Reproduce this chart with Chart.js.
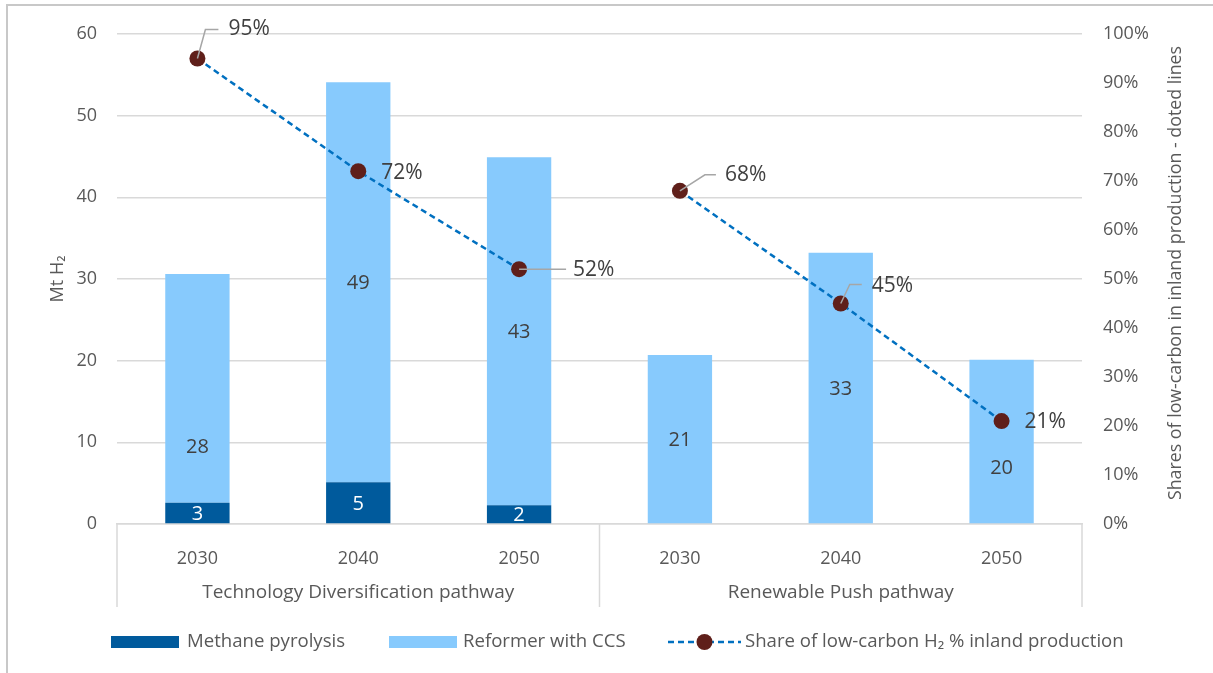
<!DOCTYPE html>
<html>
<head>
<meta charset="utf-8">
<script src="https://cdn.jsdelivr.net/npm/chart.js@4.4.1/dist/chart.umd.min.js"></script>
<style>
  html, body { margin: 0; padding: 0; background: #fff; }
  #wrap { width: 1213px; height: 673px; position: relative; }
</style>
</head>
<body>
<div id="wrap"><canvas id="h2Chart"></canvas></div>
<script>
/* data */
const years = ["2030", "2040", "2050", "2030", "2040", "2050"];
const pathways = ["Technology Diversification pathway", "Renewable Push pathway"];
const methanePyrolysis = [2.6, 5.1, 2.3, 0, 0, 0];
const reformerCCS = [28.0, 49.0, 42.6, 20.7, 33.2, 20.1];
const lowCarbonShare = [95, 72, 52, 68, 45, 21];
const leftTicks = [0, 10, 20, 30, 40, 50, 60];
const rightTicks = [0, 10, 20, 30, 40, 50, 60, 70, 80, 90, 100];

const FONT = "'Open Sans', sans-serif";
const TEXT = "#595959";
const DARK = "#005a9c";
const LIGHT = "#87cafd";
const LINE = "#0070c0";
const DOT = "#5f1f1a";
const GRID = "#d9d9d9";

/* label placement tweaks (px) */
const reformerLabelNudge = [58, 0, 0, 0, 0, 26];
const pctLabelOffset = [[31, -29], [23, 2], [54, 1], [45, -16], [31, -17], [23, 1]];
const pctLeader = [[[8, -29], [21, -29]], null, [[0, 0], [47, 0]], [[25, -16], [36, -16]], [[9, -19], [21, -19]], null];

/* legend layout: item start x, swatch width, swatch-to-text gap */
const legendItems = [
  { start: 111, w: 68, gap: 8 },
  { start: 389, w: 68, gap: 6 },
  { start: 668, w: 73, gap: 4 }
];

const extras = {
  id: "extras",
  afterDraw(chart) {
    const ctx = chart.ctx;
    const area = chart.chartArea;
    const x = chart.scales.x;
    ctx.save();

    // outer frame (left and top)
    ctx.strokeStyle = "#c8c8c8";
    ctx.lineWidth = 2;
    ctx.beginPath();
    ctx.moveTo(7, 673); ctx.lineTo(7, 5); ctx.lineTo(1213, 5);
    ctx.stroke();

    // category separators
    ctx.strokeStyle = GRID;
    ctx.lineWidth = 1.5;
    const mid = (x.getPixelForValue(2) + x.getPixelForValue(3)) / 2;
    [area.left, mid, area.right].forEach(px => {
      ctx.beginPath();
      ctx.moveTo(px, area.bottom);
      ctx.lineTo(px, 607);
      ctx.stroke();
    });

    // group labels
    ctx.fillStyle = TEXT;
    ctx.font = "19px " + FONT;
    ctx.textAlign = "center";
    ctx.textBaseline = "middle";
    pathways.forEach((name, g) => {
      const cx = (x.getPixelForValue(g * 3) + x.getPixelForValue(g * 3 + 2)) / 2;
      ctx.fillText(name, cx, 593);
    });

    // right axis title
    ctx.save();
    ctx.translate(1176, (area.top + area.bottom) / 2 - 6);
    ctx.rotate(-Math.PI / 2);
    ctx.font = "17.8px " + FONT;
    ctx.fillText("Shares of low-carbon in inland production - doted lines", 0, 0);
    ctx.restore();

    // legend
    const ly = 642;
    ctx.textAlign = "left";
    ctx.font = "18.6px " + FONT;
    chart.data.datasets.forEach((ds, i) => {
      const it = legendItems[i];
      if (ds.type === "bar") {
        ctx.fillStyle = ds.backgroundColor;
        ctx.fillRect(it.start, ly - 6, it.w, 12);
      } else {
        ctx.save();
        ctx.strokeStyle = ds.borderColor;
        ctx.lineWidth = ds.borderWidth;
        ctx.setLineDash(ds.borderDash);
        ctx.beginPath();
        ctx.moveTo(it.start, ly);
        ctx.lineTo(it.start + it.w, ly);
        ctx.stroke();
        ctx.fillStyle = ds.pointBackgroundColor;
        ctx.beginPath();
        ctx.arc(it.start + it.w / 2, ly, ds.pointRadius, 0, Math.PI * 2);
        ctx.fill();
        ctx.restore();
      }
      ctx.fillStyle = TEXT;
      ctx.fillText(ds.label, it.start + it.w + it.gap, ly);
    });

    // bar value labels
    ctx.textAlign = "center";
    ctx.font = "20px " + FONT;
    [0, 1].forEach(d => {
      const meta = chart.getDatasetMeta(d);
      const vals = chart.data.datasets[d].data;
      meta.data.forEach((bar, i) => {
        if (!vals[i]) return;
        const nudge = d === 1 ? reformerLabelNudge[i] : 0;
        ctx.fillStyle = d === 0 ? "#ffffff" : "#404040";
        ctx.fillText(Math.round(vals[i]), bar.x, (bar.y + bar.base) / 2 + nudge + 1);
      });
    });

    // share labels with leader lines
    const lineMeta = chart.getDatasetMeta(2);
    ctx.textAlign = "left";
    ctx.font = "21px " + FONT;
    lineMeta.data.forEach((pt, i) => {
      const lead = pctLeader[i];
      if (lead) {
        ctx.strokeStyle = "#a6a6a6";
        ctx.lineWidth = 1.5;
        ctx.beginPath();
        ctx.moveTo(pt.x, pt.y);
        ctx.lineTo(pt.x + lead[0][0], pt.y + lead[0][1]);
        ctx.lineTo(pt.x + lead[1][0], pt.y + lead[1][1]);
        ctx.stroke();
      }
      ctx.fillStyle = "#404040";
      ctx.fillText(lowCarbonShare[i] + "%", pt.x + pctLabelOffset[i][0], pt.y + pctLabelOffset[i][1]);
    });
    ctx.restore();
  }
};

new Chart(document.getElementById("h2Chart"), {
  data: {
    labels: years,
    datasets: [
      {
        type: "bar",
        label: "Methane pyrolysis",
        data: methanePyrolysis,
        backgroundColor: DARK,
        yAxisID: "y",
        order: 2
      },
      {
        type: "bar",
        label: "Reformer with CCS",
        data: reformerCCS,
        backgroundColor: LIGHT,
        yAxisID: "y",
        order: 2
      },
      {
        type: "line",
        label: "Share of low-carbon H\u2082 % inland production",
        data: lowCarbonShare,
        yAxisID: "y1",
        borderColor: LINE,
        borderWidth: 2.5,
        borderDash: [6, 4],
        pointRadius: 8,
        pointHoverRadius: 8,
        pointBackgroundColor: DOT,
        pointBorderWidth: 0,
        segment: {
          borderColor: c => c.p0DataIndex === 2 ? "rgba(0,0,0,0)" : undefined
        },
        order: 0
      }
    ]
  },
  options: {
    responsive: true,
    maintainAspectRatio: false,
    animation: false,
    datasets: {
      bar: { barPercentage: 0.4, categoryPercentage: 1 }
    },
    layout: { padding: { left: 47, right: 0, top: 34, bottom: 72 } },
    scales: {
      x: {
        stacked: true,
        grid: { display: false },
        border: { display: true, color: GRID, width: 1.5 },
        ticks: { color: TEXT, font: { family: FONT, size: 18 }, padding: 16 },
        afterFit: s => { s.height = 77; }
      },
      y: {
        stacked: true,
        min: 0,
        max: 60,
        afterBuildTicks: s => { s.ticks = leftTicks.map(v => ({ value: v })); },
        grid: { color: GRID, lineWidth: 1.5, drawTicks: false },
        border: { display: false },
        ticks: { color: TEXT, font: { family: FONT, size: 18 }, padding: 20 },
        title: {
          display: true,
          text: "Mt H\u2082",
          color: TEXT,
          font: { family: FONT, size: 18 },
          padding: { top: 0, bottom: 0 }
        },
        afterFit: s => { s.width = 70; }
      },
      y1: {
        position: "right",
        min: 0,
        max: 100,
        afterBuildTicks: s => { s.ticks = rightTicks.map(v => ({ value: v })); },
        grid: { display: false, drawTicks: false },
        border: { display: false },
        ticks: {
          color: TEXT,
          font: { family: FONT, size: 18 },
          padding: 21,
          callback: v => v + "%"
        },
        afterFit: s => { s.width = 131; }
      }
    },
    plugins: {
      tooltip: { enabled: false },
      legend: { display: false }
    }
  },
  plugins: [extras]
});
</script>
</body>
</html>
